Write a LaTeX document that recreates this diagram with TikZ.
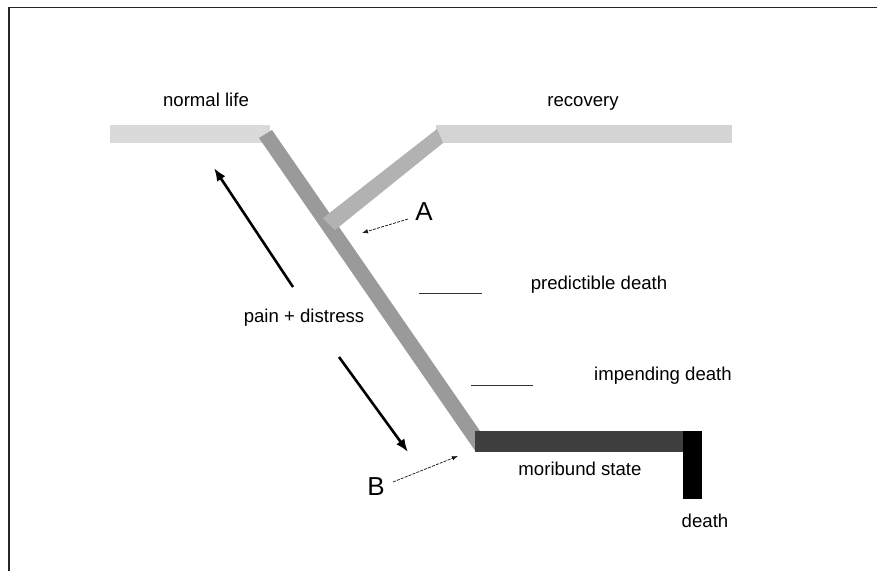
\documentclass[tikz,border=0pt]{standalone}
\usepackage{fontspec}
\setmainfont{Liberation Sans}
\usetikzlibrary{arrows.meta}
\definecolor{lifegray}{HTML}{DADADA}
\definecolor{recgray}{HTML}{D4D4D4}
\definecolor{branchgray}{HTML}{B2B2B2}
\definecolor{diaggray}{HTML}{9A9A9A}
\definecolor{morigray}{HTML}{3E3E3E}
\tikzset{
  lbl/.style={inner sep=0pt, anchor=base, font=\fontsize{18.6}{22}\selectfont},
  letter/.style={inner sep=0pt, anchor=base, font=\fontsize{26}{30}\selectfont},
  bigarrow/.style={line width=2.6pt, -{Latex[length=13pt,width=10pt]}},
  thinarrow/.style={line width=0.75pt, black!90, dash pattern=on 3pt off 1.2pt, -{Latex[length=6pt,width=4.5pt]}},
  tick/.style={line width=0.8pt, black!80},
  frameline/.style={line width=1.5pt, black!85}
}
\begin{document}
\begin{tikzpicture}[x=1pt,y=-1pt]
\useasboundingbox (0,0) rectangle (877,571);
% frame (top and left edges)
\draw[frameline] (9,571) -- (9,7.5) -- (877,7.5);
% horizontal bars
\fill[lifegray] (110,125) rectangle (270,143);
\fill[recgray] (436,125) rectangle (732,143);
% main diagonal bar
\coordinate (d1) at (259,138);
\coordinate (d2) at (272,130);
\coordinate (d3) at (480,431);
\coordinate (d4) at (476,452);
\fill[diaggray] (d1) -- (d2) -- (d3) -- (d4) -- cycle;
% recovery branch
\coordinate (b1) at (437,129);
\coordinate (b2) at (443,143);
\coordinate (b3) at (335,230);
\coordinate (b4) at (323,218);
\fill[branchgray] (b1) -- (b2) -- (b3) -- (b4) -- cycle;
% moribund and death bars
\fill[morigray] (475,431) rectangle (685,452);
\fill[black] (683,431) rectangle (702,499);
% labels (placed at baselines)
\node[lbl] (normal) at (206,106) {normal life};
\node[lbl] (recovery) at (583,106) {recovery};
\node[lbl] (predictible) at (599,289) {predictible death};
\node[lbl] (impending) at (663,380) {impending death};
\node[lbl] (pain) at (304,322) {pain + distress};
\node[lbl] (moribund) at (580,475) {moribund state};
\node[lbl] (death) at (705,527) {death};
\node[letter] (A) at (424,220) {A};
\node[letter] (B) at (376,495) {B};
% tick lines
\coordinate (p1) at (419,293);
\coordinate (p2) at (482,293);
\coordinate (i1) at (471,385);
\coordinate (i2) at (533,385);
\draw[tick] (p1) -- (p2);
\draw[tick] (i1) -- (i2);
% big arrows
\coordinate (up1) at (293,287);
\coordinate (up2) at (214,168);
\coordinate (dn1) at (339,357);
\coordinate (dn2) at (408,452);
\draw[bigarrow] (up1) -- (up2);
\draw[bigarrow] (dn1) -- (dn2);
% thin arrows
\coordinate (Atail) at (408,219);
\coordinate (Atip) at (362,233);
\coordinate (Btail) at (393,482);
\coordinate (Btip) at (458,456);
\draw[thinarrow] (Atail) -- (Atip);
\draw[thinarrow] (Btail) -- (Btip);
\end{tikzpicture}
\end{document}
